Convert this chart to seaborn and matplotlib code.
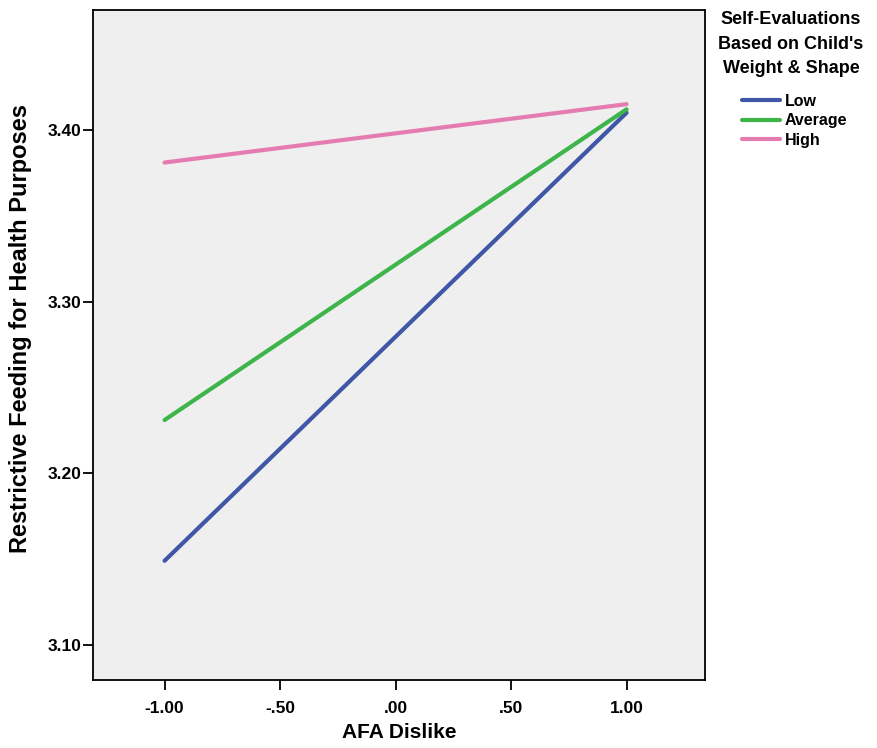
import pandas as pd
import seaborn as sns
from matplotlib import pyplot as plt

# simple slopes at -1 SD and +1 SD of AFA Dislike
afa_dislike = [-1.0, 1.0]
low = [3.149, 3.410]
average = [3.231, 3.412]
high = [3.381, 3.415]
groups = ["Low", "Average", "High"]
colors = ["#3F57A6", "#3DB54A", "#E47CB2"]

df = pd.DataFrame(
    {
        "AFA Dislike": afa_dislike * 3,
        "Restrictive": low + average + high,
        "group": [g for g in groups for _ in afa_dislike],
    }
)

sns.set_style("white")
plt.rcParams["font.family"] = ["Liberation Sans", "DejaVu Sans"]
plt.rcParams["text.color"] = "black"
plt.rcParams["axes.labelcolor"] = "black"

fig = plt.figure(figsize=(8.77, 7.48), dpi=100)
ax = fig.add_axes([0.106, 0.091, 0.698, 0.896])
ax.set_facecolor("#EFEFEF")

sns.lineplot(
    data=df,
    x="AFA Dislike",
    y="Restrictive",
    hue="group",
    hue_order=groups,
    palette=colors,
    linewidth=3,
    ax=ax,
)

ax.set_xlim(-1.31, 1.34)
ax.set_ylim(3.0796, 3.470)
ax.set_xticks([-1.0, -0.5, 0.0, 0.5, 1.0])
ax.set_xticklabels(["-1.00", "-.50", ".00", ".50", "1.00"])
ax.set_yticks([3.10, 3.20, 3.30, 3.40])
ax.set_yticklabels(["3.10", "3.20", "3.30", "3.40"])
ax.tick_params(axis="both", direction="out", length=7, width=1.3,
               labelsize=12.5, colors="black", left=True, bottom=True)
ax.tick_params(axis="y", pad=1)
ax.tick_params(axis="x", pad=8)
for lab in ax.get_xticklabels() + ax.get_yticklabels():
    lab.set_fontweight("bold")
for s in ax.spines.values():
    s.set_color("black")
    s.set_linewidth(1.3)

ax.set_xlabel("AFA Dislike", fontsize=15, fontweight="bold", labelpad=5)
ax.set_ylabel("Restrictive Feeding for Health Purposes", fontsize=17,
              fontweight="bold", va="center")
ax.yaxis.set_label_coords(-0.119, 0.525)

fig.text(0.902, 0.985, "Self-Evaluations\nBased on Child's\nWeight & Shape",
         ha="center", va="top", multialignment="center",
         fontsize=13, fontweight="bold", linespacing=1.58)

ax.legend(
    loc="upper left",
    bbox_to_anchor=(0.846, 0.875),
    bbox_transform=fig.transFigure,
    frameon=False,
    prop={"size": 11.5, "weight": "bold"},
    handlelength=2.4,
    handletextpad=0.3,
    labelspacing=0.3,
    borderaxespad=0,
    borderpad=0,
)

plt.savefig("out.png", dpi=100)
